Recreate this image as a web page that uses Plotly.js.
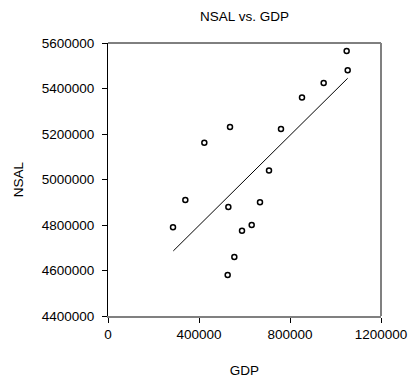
<!DOCTYPE html>
<html>
<head>
<meta charset="utf-8">
<script src="https://cdn.plot.ly/plotly-3.0.1.min.js"></script>
<style>html,body{margin:0;padding:0;background:#fff;}#chart{width:410px;height:379px;}</style>
</head>
<body>
<div id="chart"></div>
<script>
var gdp = [1049000, 1053600, 948000, 852700, 760400, 536300, 423400, 707700,
           339900, 285700, 529000, 668100, 631600, 589000, 555300, 526000];
var nsal = [5565000, 5480000, 5424000, 5360000, 5222000, 5231000, 5162000, 5040000,
            4910000, 4790000, 4879000, 4900000, 4800000, 4775000, 4659000, 4580000];
// Fitted line endpoints
var fitX = [287000, 1053600];
var fitY = [4686000, 5445000];
var xTicks = [0, 400000, 800000, 1200000];
var yTicks = [4400000, 4600000, 4800000, 5000000, 5200000, 5400000, 5600000];

var font = {family: 'Liberation Sans, Arial, sans-serif', size: 13.5, color: '#000'};

var traces = [
  {x: gdp, y: nsal, type: 'scatter', mode: 'markers',
   marker: {symbol: 'circle-open', size: 5, color: '#000', line: {width: 1.5, color: '#000'}},
   hoverinfo: 'skip'},
  {x: fitX, y: fitY, type: 'scatter', mode: 'lines',
   line: {color: '#000', width: 1}, hoverinfo: 'skip'}
];

var layout = {
  width: 410, height: 379,
  margin: {l: 108, r: 29, t: 43, b: 63},
  showlegend: false,
  paper_bgcolor: '#fff', plot_bgcolor: '#fff',
  font: font,
  title: {text: 'NSAL vs. GDP', font: {family: font.family, size: 13.5, color: '#000'},
          x: 0.5, xref: 'paper', xanchor: 'center', y: 1 - 16/379, yref: 'container', yanchor: 'middle'},
  xaxis: {
    range: [0, 1200000], tickvals: xTicks, tickformat: 'd',
    showgrid: false, zeroline: false,
    showline: true, linecolor: '#808080', linewidth: 2,
    ticks: 'outside', ticklen: 5, tickcolor: '#000', tickwidth: 1,
    tickfont: font, automargin: false,
    title: {text: 'GDP', font: font, standoff: 24}
  },
  yaxis: {
    range: [4400000, 5600000], tickvals: yTicks, tickformat: 'd',
    showgrid: false, zeroline: false,
    showline: true, linecolor: '#000', linewidth: 1,
    ticks: 'outside', ticklen: 5, tickcolor: '#000', tickwidth: 1,
    ticklabelstandoff: 5,
    tickfont: font, automargin: false,
    title: {text: 'NSAL', font: font, standoff: 15}
  },
  shapes: [
    {type: 'line', xref: 'paper', yref: 'paper', x0: 0, x1: 1, y0: 1, y1: 1,
     line: {color: '#000', width: 1}},
    {type: 'line', xref: 'paper', yref: 'paper', x0: 1, x1: 1, y0: 0, y1: 1,
     line: {color: '#808080', width: 2}}
  ]
};

Plotly.newPlot('chart', traces, layout, {staticPlot: true, displayModeBar: false});
</script>
</body>
</html>
